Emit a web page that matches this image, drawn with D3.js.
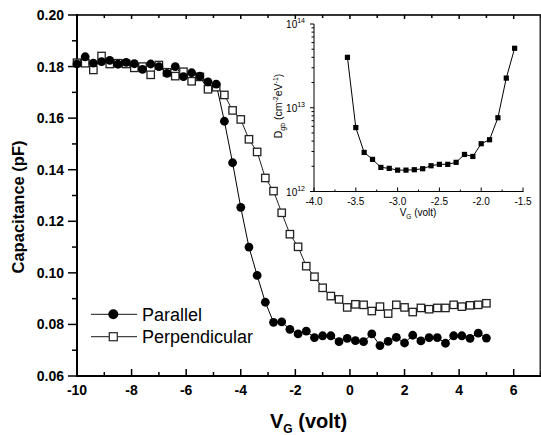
<!DOCTYPE html>
<html><head><meta charset="utf-8">
<script src="https://cdn.jsdelivr.net/npm/d3@7/dist/d3.min.js"></script>
<style>body{margin:0;background:#fff}svg{display:block}text{font-family:"Liberation Sans",Arial,sans-serif}</style>
</head><body>
<svg id="c" width="541" height="435"></svg>
<script>
const voltage = [-10,-9.7,-9.4,-9.1,-8.8,-8.5,-8.2,-7.9,-7.6,-7.3,-7.0,-6.7,-6.4,-6.1,-5.8,-5.5,-5.2,-4.9,-4.6,-4.3,-4.0,-3.7,-3.4,-3.1,-2.8,-2.5,-2.2,-1.9,-1.6,-1.3,-1.0,-0.7,-0.4,-0.1,0.2,0.5,0.8,1.1,1.4,1.7,2.0,2.3,2.6,2.9,3.2,3.5,3.8,4.1,4.4,4.7,5.0];
const parallel = [0.1810,0.1838,0.1813,0.1819,0.1824,0.1809,0.1816,0.1811,0.1789,0.1810,0.1800,0.1774,0.1800,0.1761,0.1776,0.1763,0.1741,0.1732,0.1588,0.1427,0.1254,0.1100,0.0990,0.0886,0.0808,0.0810,0.0781,0.0763,0.0774,0.0749,0.0756,0.0756,0.0733,0.0746,0.0737,0.0733,0.0763,0.0718,0.0734,0.0750,0.0728,0.0758,0.0736,0.0749,0.0749,0.0727,0.0756,0.0756,0.0746,0.0766,0.0747];
const perpendicular = [0.1815,0.1813,0.1787,0.1841,0.1810,0.1813,0.1810,0.1795,0.1800,0.1768,0.1806,0.1778,0.1763,0.1780,0.1743,0.1760,0.1712,0.1720,0.1690,0.1630,0.1595,0.1518,0.1469,0.1368,0.1317,0.1233,0.1150,0.1101,0.1026,0.0985,0.0942,0.0910,0.0897,0.0866,0.0878,0.0876,0.0852,0.0869,0.0842,0.0876,0.0866,0.0848,0.0864,0.0859,0.0864,0.0864,0.0876,0.0869,0.0874,0.0876,0.0882];
const xTicks = [-10,-8,-6,-4,-2,0,2,4,6];
const yTicks = [0.06,0.08,0.10,0.12,0.14,0.16,0.18,0.20];
const seriesNames = ["Parallel","Perpendicular"];

const insetV = [-3.6,-3.5,-3.4,-3.3,-3.2,-3.1,-3.0,-2.9,-2.8,-2.7,-2.6,-2.5,-2.4,-2.3,-2.2,-2.1,-2.0,-1.9,-1.8,-1.7,-1.6];
const insetD = [4.0e13,5.8e12,2.93e12,2.42e12,1.94e12,1.89e12,1.80e12,1.80e12,1.82e12,1.87e12,2.03e12,2.11e12,2.11e12,2.23e12,2.77e12,2.62e12,3.72e12,4.15e12,7.6e12,2.26e13,5.13e13];
const insetXTicks = [-4.0,-3.5,-3.0,-2.5,-2.0,-1.5];
const insetYExp = [12,13,14];

const svg = d3.select("#c");
const x = d3.scaleLinear().domain([-10,7]).range([77,541]);
const y = d3.scaleLinear().domain([0.06,0.20]).range([376,15]);

// frame
const fr = svg.append("g");
fr.append("line").attr("x1",77).attr("x2",541).attr("y1",15).attr("y2",15).attr("stroke","#333").attr("stroke-width",2);
fr.append("line").attr("x1",540.5).attr("x2",540.5).attr("y1",15).attr("y2",376).attr("stroke","#333").attr("stroke-width",2);

// bottom axis (ticks inward)
const xb = svg.append("g").attr("transform","translate(0,376)");
const minorX = d3.range(-10,7.01,1);
xb.selectAll("line.mt").data(minorX).join("line").attr("x1",d=>x(d)).attr("x2",d=>x(d)).attr("y1",0).attr("y2",d=>d%2===0?-7:-4).attr("stroke","#000").attr("stroke-width",1.5);
xb.append("line").attr("x1",77).attr("x2",541).attr("stroke","#000").attr("stroke-width",2);
xb.selectAll("text").data(xTicks).join("text").attr("x",d=>x(d)).attr("y",19).attr("text-anchor","middle").attr("font-size",14).attr("font-weight","bold").text(d=>d);
// top ticks
svg.selectAll("line.tt").data(minorX).join("line").attr("x1",d=>x(d)).attr("x2",d=>x(d)).attr("y1",15).attr("y2",d=>d%2===0?19:18).attr("stroke","#000").attr("stroke-width",1.5);

// left axis (ticks outward)
const yl = svg.append("g").attr("transform","translate(77,0)");
const minorY = d3.range(0.06,0.2001,0.01);
yl.selectAll("line").data(minorY).join("line").attr("x1",(d,i)=>i%2===0?-9:-5).attr("x2",0).attr("y1",d=>y(d)).attr("y2",d=>y(d)).attr("stroke","#000").attr("stroke-width",1.5);
yl.append("line").attr("y1",14).attr("y2",377).attr("stroke","#000").attr("stroke-width",2);
yl.selectAll("text").data(yTicks).join("text").attr("x",-13).attr("y",d=>y(d)+5).attr("text-anchor","end").attr("font-size",14).attr("font-weight","bold").text(d=>d.toFixed(2));

// titles
svg.append("text").attr("transform","translate(24,207) rotate(-90)").attr("text-anchor","middle").attr("font-size",16.5).attr("font-weight","bold").text("Capacitance (pF)");
const xt = svg.append("text").attr("x",270).attr("y",428).attr("font-size",20).attr("font-weight","bold");
xt.append("tspan").text("V");
xt.append("tspan").attr("font-size",12).attr("dy",5).text("G");
xt.append("tspan").attr("dy",-5).text(" (volt)");

// data
const line = d3.line().x(d=>x(d[0])).y(d=>y(d[1]));
const pPar = voltage.map((v,i)=>[v,parallel[i]]);
const pPer = voltage.map((v,i)=>[v,perpendicular[i]]);
svg.append("path").attr("d",line(pPer)).attr("fill","none").attr("stroke","#222").attr("stroke-width",1);
svg.append("path").attr("d",line(pPar)).attr("fill","none").attr("stroke","#000").attr("stroke-width",1);
svg.selectAll("rect.per").data(pPer).join("rect").attr("x",d=>x(d[0])-3.7).attr("y",d=>y(d[1])-3.7).attr("width",7.4).attr("height",7.4).attr("fill","#fff").attr("stroke","#222").attr("stroke-width",1.3);
svg.selectAll("circle.par").data(pPar).join("circle").attr("cx",d=>x(d[0])).attr("cy",d=>y(d[1])).attr("r",4.4).attr("fill","#000");

// legend
const lg = svg.append("g");
const ly = [314.3,336.7];
lg.selectAll("line").data(seriesNames).join("line").attr("x1",91).attr("x2",137).attr("y1",(d,i)=>ly[i]).attr("y2",(d,i)=>ly[i]).attr("stroke","#444").attr("stroke-width",1.3);
lg.append("circle").attr("cx",113.3).attr("cy",ly[0]).attr("r",5).attr("fill","#000");
lg.append("rect").attr("x",113.3-4).attr("y",ly[1]-4).attr("width",8).attr("height",8).attr("fill","#fff").attr("stroke","#333").attr("stroke-width",1.3);
lg.selectAll("text").data(seriesNames).join("text").attr("x",142).attr("y",(d,i)=>ly[i]+6.5).attr("font-size",18).text(d=>d);

// inset
const ix = d3.scaleLinear().domain([-4,-1.5]).range([314,523]);
const iy = d3.scaleLog().domain([1e12,1e14]).range([191.5,24]);
const ins = svg.append("g");
ins.append("line").attr("x1",314).attr("x2",314).attr("y1",24).attr("y2",191.5).attr("stroke","#000").attr("stroke-width",1);
ins.append("line").attr("x1",314).attr("x2",523.5).attr("y1",191.5).attr("y2",191.5).attr("stroke","#000").attr("stroke-width",1);
const ixMinor = d3.range(-4,-1.49,0.25);
ins.selectAll("line.ixt").data(ixMinor).join("line").attr("x1",d=>ix(d)).attr("x2",d=>ix(d)).attr("y1",191.5).attr("y2",(d,i)=>i%2===0?187.5:189.5).attr("stroke","#000").attr("stroke-width",1);
ins.selectAll("text.ixl").data(insetXTicks).join("text").attr("x",d=>ix(d)).attr("y",205).attr("text-anchor","middle").attr("font-size",10).text(d=>d.toFixed(1));
const iyMinor = [];
[12,13].forEach(e=>{for(let k=2;k<=9;k++) iyMinor.push(k*Math.pow(10,e));});
ins.selectAll("line.iym").data(iyMinor).join("line").attr("x1",311.5).attr("x2",314).attr("y1",d=>iy(d)).attr("y2",d=>iy(d)).attr("stroke","#000").attr("stroke-width",1);
ins.selectAll("line.iyM").data(insetYExp).join("line").attr("x1",310).attr("x2",314).attr("y1",d=>iy(Math.pow(10,d))).attr("y2",d=>iy(Math.pow(10,d))).attr("stroke","#000").attr("stroke-width",1);
const iyl = ins.selectAll("text.iyl").data(insetYExp).join("text").attr("x",305).attr("y",d=>iy(Math.pow(10,d))+4).attr("text-anchor","end").attr("font-size",10);
iyl.append("tspan").text("10");
iyl.append("tspan").attr("font-size",7).attr("dy",-5).text(d=>d);
// inset titles
const ixt = ins.append("text").attr("x",418).attr("y",216).attr("text-anchor","middle").attr("font-size",10);
ixt.append("tspan").text("V");
ixt.append("tspan").attr("font-size",6.5).attr("dy",3).text("G");
ixt.append("tspan").attr("dy",-3).text(" (volt)");
const iyt = ins.append("text").attr("transform","translate(282,106) rotate(-90)").attr("text-anchor","middle").attr("font-size",10.5);
iyt.append("tspan").text("D");
iyt.append("tspan").attr("font-size",7).attr("dy",3).text("gb");
iyt.append("tspan").attr("dy",-3).text(" (cm");
iyt.append("tspan").attr("font-size",7).attr("dy",-4).text("-2");
iyt.append("tspan").attr("dy",4).text("eV");
iyt.append("tspan").attr("font-size",7).attr("dy",-4).text("-1");
iyt.append("tspan").attr("dy",4).text(")");
const ipts = insetV.map((v,i)=>[v,insetD[i]]);
ins.append("path").attr("d",d3.line().x(d=>ix(d[0])).y(d=>iy(d[1]))(ipts)).attr("fill","none").attr("stroke","#000").attr("stroke-width",1);
ins.selectAll("rect.ip").data(ipts).join("rect").attr("x",d=>ix(d[0])-2.6).attr("y",d=>iy(d[1])-2.6).attr("width",5.2).attr("height",5.2).attr("fill","#000");
</script>
</body></html>
